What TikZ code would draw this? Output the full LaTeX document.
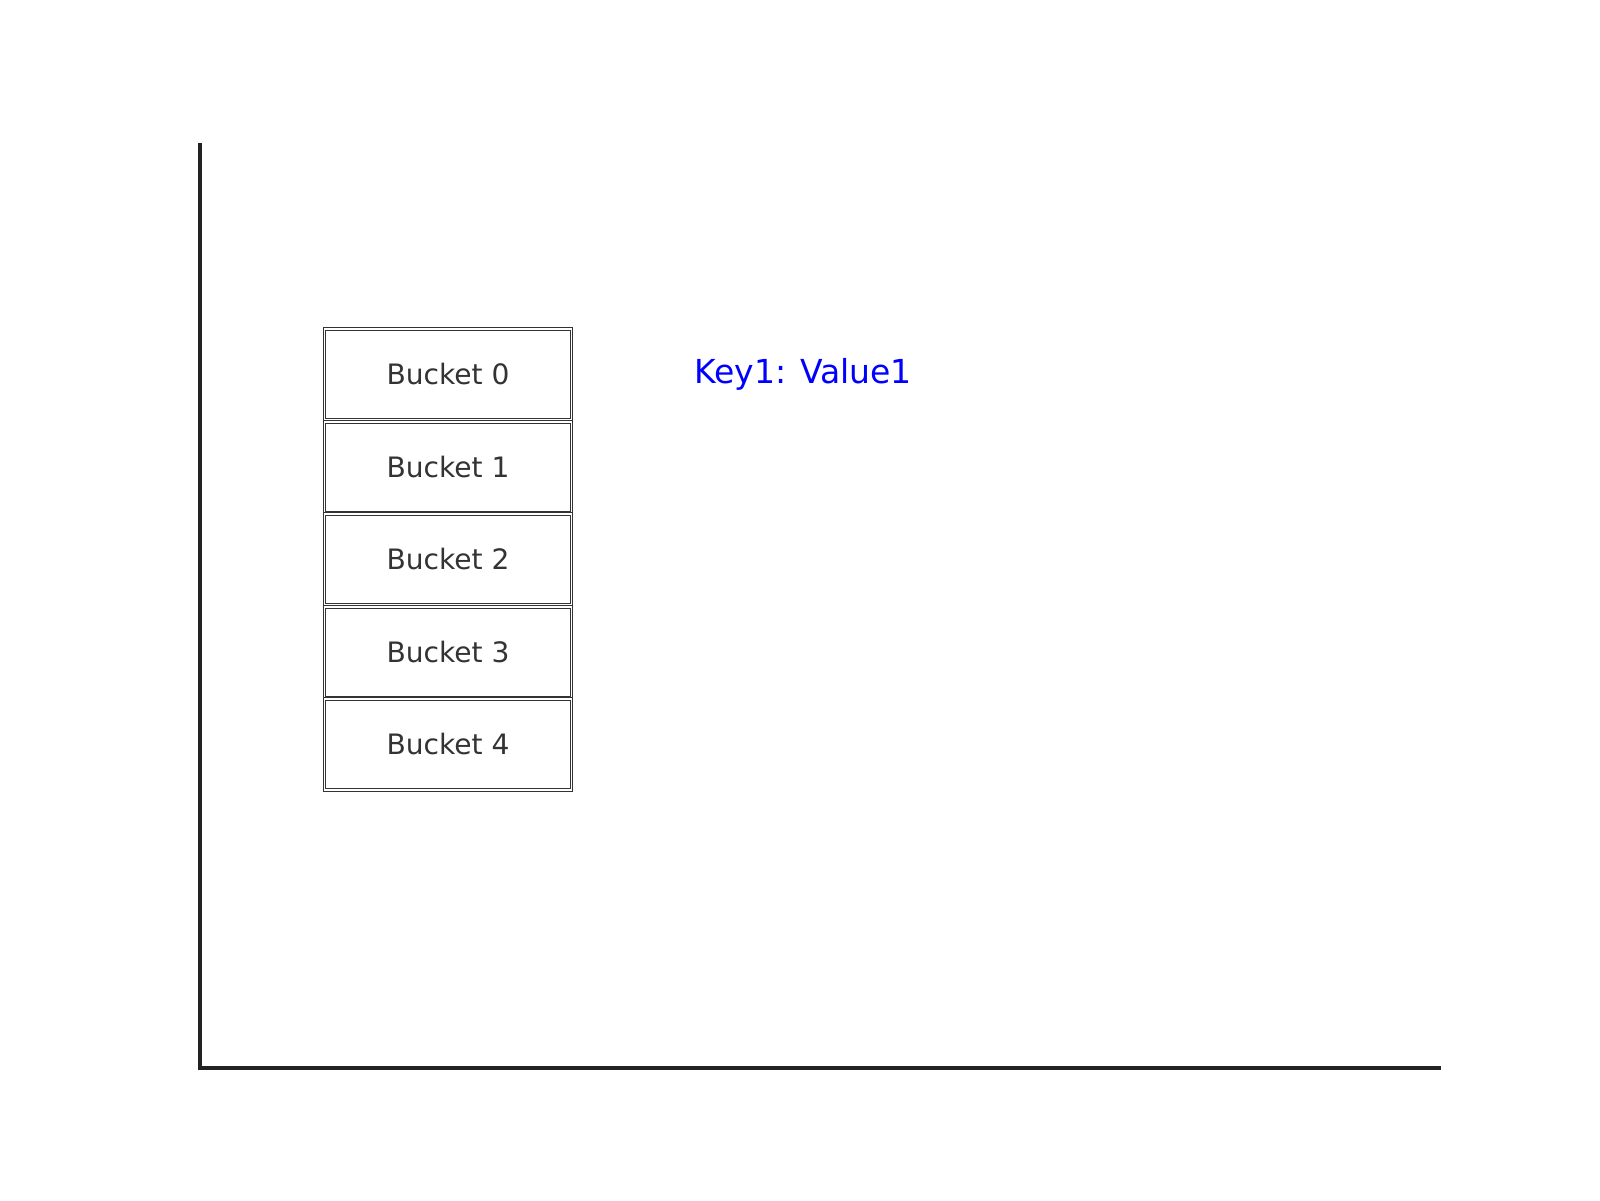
\documentclass[tikz,border=0pt]{standalone}
\usepackage{fontspec}
\setmainfont{DejaVu Sans}
\definecolor{axisgray}{HTML}{222222}
\definecolor{textgray}{HTML}{333333}
\begin{document}
\begin{tikzpicture}
        \tikzset{bucket/.style = {shape=rectangle,draw=textgray,double,double distance=0.45pt,line width=0.3pt,minimum width=2.47cm,minimum height=0.915cm,inner sep=0pt,text=textgray,font=\fontsize{8pt}{9pt}\selectfont}}
        \tikzset{entry/.style = {text=blue,inner sep=0pt,font=\fontsize{9.4pt}{11pt}\selectfont}}
        \tikzset{axis/.style = {draw=axisgray,line width=0.95pt}}
        \useasboundingbox (0,0) rectangle (16,12);
        % axes
        \coordinate (top) at (2,10.57);
        \coordinate (origin) at (2,1.32);
        \coordinate (right) at (14.41,1.32);
        \draw[axis] (top) -- (origin) -- (right);
        % buckets
        \node[bucket] (b0) at (4.48,8.255) {Bucket 0};
        \node[bucket] (b1) at (4.48,7.325) {Bucket 1};
        \node[bucket] (b2) at (4.48,6.405) {Bucket 2};
        \node[bucket] (b3) at (4.48,5.475) {Bucket 3};
        \node[bucket] (b4) at (4.48,4.555) {Bucket 4};
        % stored pair
        \node[entry] (kv) at (8.03,8.26) {Key1: Value1};
\end{tikzpicture}
\end{document}
